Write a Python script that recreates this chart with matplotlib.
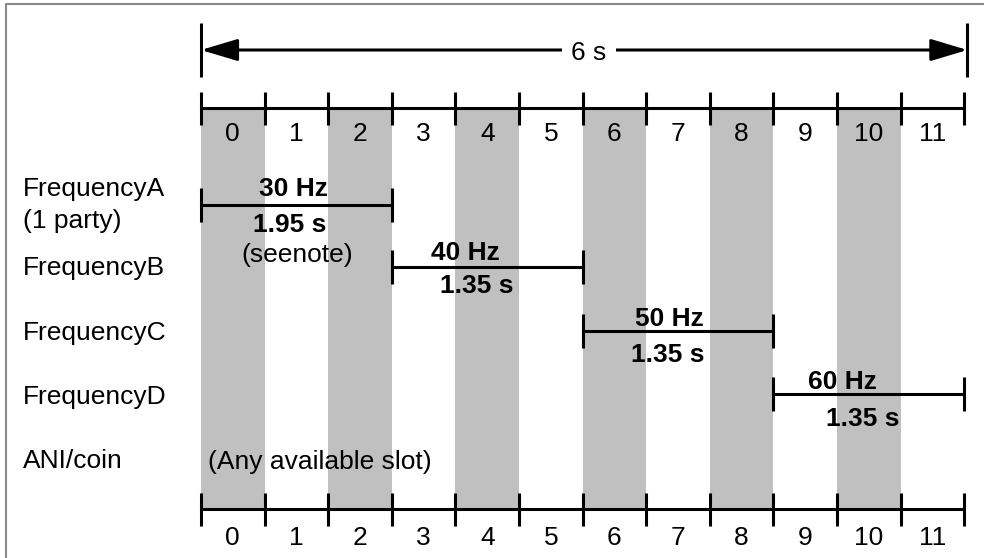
import matplotlib
matplotlib.use("Agg")
import matplotlib.pyplot as plt
from matplotlib.patches import FancyArrowPatch

plt.rcParams["font.family"] = ["Liberation Sans", "DejaVu Sans"]
plt.rcParams["font.size"] = 19

# data
slots = list(range(12))
slot_labels = [str(s) for s in slots]
shaded_slots = slots[::2]
total_label = "6 s"
row_names = ["FrequencyA\n(1 party)", "FrequencyB", "FrequencyC", "FrequencyD", "ANI/coin"]
freq_labels = ["30 Hz", "40 Hz", "50 Hz", "60 Hz"]
dur_labels = ["1.95 s", "1.35 s", "1.35 s", "1.35 s"]
seg_start = [0, 3, 6, 9]
seg_end = [3, 6, 9, 12]
note_label = "(seenote)"
ani_label = "(Any available slot)"

# layout (y in pixels from the top, x in slot units)
row_y = [205, 267, 331, 394]
name_y = [212, 275, 340, 404, 468]
freq_dx = [-0.05, -0.35, -0.13, -0.41]
freq_dy = [-8.5, -7, -5, -5]
dur_dx = [-0.10, -0.16, -0.16, -0.09]
dur_dy = [27, 26, 31, 32]
LW = 2.2
GRAY = "#c0c0c0"


def main():
    fig = plt.figure(figsize=(9.84, 5.58), dpi=100)
    ax = fig.add_axes([0, 0, 1, 1])
    ax.set_xlim(-201 / 63.6, (984 - 201) / 63.6)
    ax.set_ylim(558, 0)
    ax.axis("off")

    # outer frame (top and left only visible)
    ax.plot([6 / 984, 6 / 984, 1.01], [-0.01, 1 - 4 / 558, 1 - 4 / 558],
            transform=ax.transAxes, color="#8a8a8a", lw=1.5, clip_on=False)

    # shaded slots
    ax.bar([s + 0.5 for s in shaded_slots], 401, bottom=108, width=1,
           color=GRAY, zorder=1)

    n = len(slots)
    # top and bottom slot scales
    for y_line, y_lab in [(108, 141), (509, 545)]:
        ax.plot([0, n], [y_line, y_line], color="black", lw=LW, zorder=3)
        ax.vlines(range(n + 1), y_line - 16, y_line + 17, color="black",
                  lw=LW, zorder=3)
        for s, lab in zip(slots, slot_labels):
            ax.text(s + 0.5, y_lab, lab, ha="center", va="baseline", zorder=4)

    # 6 s arrow
    arrow = FancyArrowPatch((0, 50), (n + 0.05, 50),
                            arrowstyle="<|-|>,head_length=1.5,head_width=0.45",
                            mutation_scale=15, color="black", lw=LW,
                            shrinkA=0, shrinkB=0, zorder=3)
    ax.add_patch(arrow)
    ax.vlines([0, n + 0.05], 23, 77, color="black", lw=LW, zorder=3)
    ax.text(6.1, 60, total_label, ha="center", va="baseline", zorder=5,
            bbox=dict(boxstyle="square,pad=0.35", fc="white", ec="none"))

    # row names
    for name, y in zip(row_names, name_y):
        if "\n" in name:
            first, second = name.split("\n")
            ax.text(-2.8, 196, first, ha="left", va="baseline")
            ax.text(-2.8, 228, second, ha="left", va="baseline")
        else:
            ax.text(-2.8, y, name, ha="left", va="baseline")

    # frequency segments
    for i in range(len(freq_labels)):
        x0, x1, y = seg_start[i], seg_end[i], row_y[i]
        mid = (x0 + x1) / 2
        ax.plot([x0, x1], [y, y], color="black", lw=LW, zorder=3)
        ax.vlines([x0, x1], y - 17, y + 17, color="black", lw=LW, zorder=3)
        ax.text(mid + freq_dx[i], y + freq_dy[i], freq_labels[i],
                ha="center", va="baseline", fontweight="bold", zorder=4)
        ax.text(mid + dur_dx[i], y + dur_dy[i], dur_labels[i],
                ha="center", va="baseline", fontweight="bold", zorder=4)

    ax.text(1.51, 262, note_label, ha="center", va="baseline", zorder=4)
    ax.text(0.11, 469, ani_label, ha="left", va="baseline", zorder=4)

    fig.savefig("out.png", dpi=100)


if __name__ == "__main__":
    main()
